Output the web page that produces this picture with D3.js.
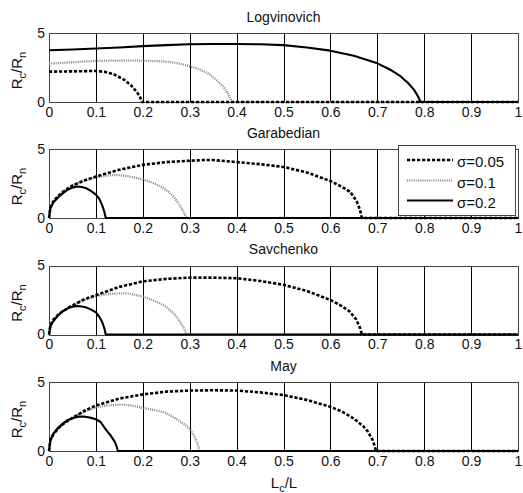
<!DOCTYPE html>
<html><head><meta charset="utf-8">
<script src="https://cdn.jsdelivr.net/npm/d3@7"></script>
<style>
body{margin:0;background:#fff;}
svg{display:block;font-family:"Liberation Sans",Arial,sans-serif;}
</style></head>
<body><svg id="c" width="523" height="493"></svg>
<script>
const panelTitles = ["Logvinovich","Garabedian","Savchenko","May"];
const sigmaLabels = ["σ=0.05","σ=0.1","σ=0.2"];
const xTickValues = [0,0.1,0.2,0.3,0.4,0.5,0.6,0.7,0.8,0.9,1];
const xTickLabels = ["0","0.1","0.2","0.3","0.4","0.5","0.6","0.7","0.8","0.9","1"];
const yTickValues = [0,5];
const yTickLabels = ["0","5"];

// Logvinovich
const logv005 = [[0,2.2],[0.05,2.22],[0.1,2.25],[0.12,2.18],[0.14,1.98],[0.16,1.62],[0.175,1.2],[0.188,0.7],[0.195,0.3],[0.198,0],[1,0]];
const logv01  = [[0,2.78],[0.05,2.88],[0.1,2.98],[0.15,3.0],[0.2,3.0],[0.25,2.93],[0.28,2.78],[0.3,2.58],[0.32,2.38],[0.34,2.05],[0.357,1.6],[0.372,1.1],[0.382,0.6],[0.39,0],[1,0]];
const logv02  = [[0,3.75],[0.05,3.8],[0.1,3.88],[0.15,3.95],[0.2,4.05],[0.25,4.12],[0.3,4.18],[0.35,4.2],[0.4,4.2],[0.45,4.18],[0.5,4.12],[0.55,3.95],[0.6,3.72],[0.65,3.35],[0.7,2.8],[0.73,2.3],[0.75,1.85],[0.765,1.4],[0.778,0.9],[0.787,0.4],[0.792,0],[1,0]];
// Garabedian
const gara005 = [[0,0],[0.003,0.8],[0.01,1.25],[0.02,1.6],[0.03,1.9],[0.05,2.35],[0.075,2.72],[0.1,3.0],[0.125,3.25],[0.15,3.5],[0.2,3.85],[0.25,4.05],[0.3,4.15],[0.33,4.2],[0.35,4.2],[0.4,4.05],[0.45,3.9],[0.5,3.7],[0.55,3.3],[0.6,2.68],[0.625,2.25],[0.642,1.9],[0.656,1.22],[0.663,0.6],[0.667,0],[1,0]];
const gara01  = [[0,0],[0.003,0.8],[0.01,1.25],[0.02,1.6],[0.03,1.9],[0.05,2.35],[0.075,2.7],[0.1,2.95],[0.125,3.08],[0.145,3.12],[0.17,3.02],[0.2,2.8],[0.22,2.58],[0.24,2.25],[0.255,1.9],[0.268,1.45],[0.278,0.95],[0.287,0.45],[0.293,0],[1,0]];
const gara02  = [[0,0],[0.003,0.7],[0.01,1.15],[0.02,1.5],[0.03,1.8],[0.04,2.05],[0.05,2.2],[0.06,2.28],[0.07,2.25],[0.08,2.15],[0.09,1.95],[0.1,1.7],[0.107,1.4],[0.113,0.95],[0.118,0.45],[0.121,0],[1,0]];
// Savchenko
const sav005 = [[0,0],[0.003,0.7],[0.01,1.1],[0.02,1.45],[0.03,1.7],[0.05,2.1],[0.075,2.55],[0.1,2.85],[0.125,3.15],[0.15,3.45],[0.2,3.85],[0.25,4.03],[0.3,4.12],[0.35,4.12],[0.4,4.08],[0.45,3.88],[0.5,3.6],[0.55,3.15],[0.6,2.5],[0.62,2.15],[0.64,1.7],[0.655,1.1],[0.663,0.5],[0.667,0],[1,0]];
const sav01  = [[0,0],[0.003,0.7],[0.01,1.1],[0.02,1.45],[0.03,1.7],[0.05,2.1],[0.075,2.5],[0.1,2.78],[0.125,2.92],[0.15,2.98],[0.17,2.97],[0.2,2.75],[0.22,2.5],[0.24,2.2],[0.25,2.0],[0.265,1.55],[0.277,1.05],[0.287,0.5],[0.294,0],[1,0]];
const sav02  = [[0,0],[0.003,0.6],[0.01,1.0],[0.02,1.4],[0.03,1.7],[0.04,1.9],[0.05,2.02],[0.06,2.06],[0.07,2.03],[0.08,1.95],[0.09,1.8],[0.1,1.6],[0.108,1.25],[0.114,0.85],[0.118,0.45],[0.121,0],[1,0]];
// May
const may005 = [[0,0],[0.003,0.8],[0.01,1.25],[0.02,1.65],[0.03,1.95],[0.05,2.4],[0.075,2.9],[0.1,3.3],[0.125,3.55],[0.15,3.8],[0.2,4.1],[0.25,4.3],[0.3,4.38],[0.35,4.4],[0.4,4.38],[0.45,4.25],[0.5,4.05],[0.55,3.7],[0.6,3.2],[0.625,2.85],[0.65,2.35],[0.67,1.8],[0.68,1.4],[0.69,0.8],[0.695,0.3],[0.697,0],[1,0]];
const may01  = [[0,0],[0.003,0.8],[0.01,1.25],[0.02,1.65],[0.03,1.95],[0.05,2.4],[0.075,2.85],[0.1,3.15],[0.125,3.3],[0.155,3.37],[0.175,3.3],[0.2,3.12],[0.225,2.97],[0.25,2.75],[0.275,2.25],[0.29,1.9],[0.3,1.6],[0.31,1.05],[0.317,0.5],[0.321,0],[1,0]];
const may02  = [[0,0],[0.003,0.8],[0.01,1.3],[0.02,1.7],[0.03,2.0],[0.04,2.25],[0.05,2.38],[0.06,2.47],[0.07,2.5],[0.08,2.47],[0.09,2.4],[0.1,2.3],[0.11,2.1],[0.122,1.52],[0.132,1.1],[0.14,0.68],[0.144,0.35],[0.147,0],[1,0]];

const panelSeries = [
  [logv005, logv01, logv02],
  [gara005, gara01, gara02],
  [sav005, sav01, sav02],
  [may005, may01, may02]
];

const styles = [
  {stroke:"#000", width:2.6, dash:"3.2,1.8"},
  {stroke:"#8a8a8a", width:2.2, dash:"1.1,1.1"},
  {stroke:"#000", width:2.1, dash:null}
];

const svg = d3.select("#c");
const left = 49, right = 518, ph = 69;
const tops = [33, 149, 265.5, 382];

const x = d3.scaleLinear().domain([0,1]).range([left,right]);
const line = d3.line();

tops.forEach((top,i)=>{
  const y = d3.scaleLinear().domain([0,5]).range([top+ph, top]);
  const g = svg.append("g");
  // gridlines
  g.selectAll("line.grid").data(xTickValues.slice(1,-1)).enter().append("line")
    .attr("x1",d=>Math.round(x(d))+0.5).attr("x2",d=>Math.round(x(d))+0.5)
    .attr("y1",top).attr("y2",top+ph)
    .attr("stroke","#000").attr("stroke-width",1).attr("shape-rendering","crispEdges");
  // box
  g.append("rect").attr("x",left+0.5).attr("y",Math.round(top)+0.5)
    .attr("width",right-left).attr("height",ph)
    .attr("fill","none").attr("stroke","#444").attr("stroke-width",1).attr("shape-rendering","crispEdges");
  // x axis labels
  const xa = d3.axisBottom(x).tickValues(xTickValues).tickSize(0).tickPadding(5)
    .tickFormat((d,j)=>xTickLabels[j]);
  const gx = g.append("g").attr("transform",`translate(0,${top+ph})`).call(xa);
  gx.select(".domain").remove();
  gx.selectAll("text").attr("font-size",14).attr("fill","#111").attr("font-family","Liberation Sans, Arial, sans-serif");
  // y axis labels
  const ya = d3.axisLeft(y).tickValues(yTickValues).tickSize(0).tickPadding(4)
    .tickFormat((d,j)=>yTickLabels[j]);
  const gy = g.append("g").attr("transform",`translate(${left},0)`).call(ya);
  gy.select(".domain").remove();
  gy.selectAll("text").attr("font-size",14).attr("fill","#111").attr("font-family","Liberation Sans, Arial, sans-serif");
  // title
  g.append("text").attr("x",(left+right)/2).attr("y",top-11.5).attr("text-anchor","middle")
    .attr("font-size",14).attr("fill","#111").text(panelTitles[i]);
  // y label
  const yl = g.append("text").attr("transform",`translate(22,${top+ph/2+3}) rotate(-90)`)
    .attr("text-anchor","middle").attr("font-size",15).attr("fill","#111");
  yl.append("tspan").text("R");
  yl.append("tspan").attr("font-size",11).attr("dy",4).text("c");
  yl.append("tspan").attr("dy",-4).text("/R");
  yl.append("tspan").attr("font-size",11).attr("dy",4).text("n");
  // series
  [1,0,2].forEach(k=>{
    const s = styles[k];
    g.append("path").datum(panelSeries[i][k].map(p=>[x(p[0]), y(p[1])]))
      .attr("d",line).attr("fill","none").attr("stroke",s.stroke)
      .attr("stroke-width",s.width).attr("stroke-dasharray",s.dash)
      .attr("stroke-linejoin","round");
  });
  // legend on Garabedian panel
  if(i===1){
    const lg = svg.append("g");
    lg.append("rect").attr("x",398.5).attr("y",145.5).attr("width",117).attr("height",70)
      .attr("fill","#fff").attr("stroke","#444").attr("stroke-width",1).attr("shape-rendering","crispEdges");
    const rowsY = [160, 180.5, 200.5];
    sigmaLabels.forEach((lab,k)=>{
      const s = styles[k];
      lg.append("line").attr("x1",407).attr("x2",453).attr("y1",rowsY[k]).attr("y2",rowsY[k])
        .attr("stroke",s.stroke).attr("stroke-width",s.width).attr("stroke-dasharray",s.dash);
      lg.append("text").attr("x",457).attr("y",rowsY[k]+7).attr("font-size",15).attr("fill","#111").text(lab);
    });
  }
});
// x label
const xl = svg.append("text").attr("x",284).attr("y",488).attr("text-anchor","middle")
  .attr("font-size",15).attr("fill","#111");
xl.append("tspan").text("L");
xl.append("tspan").attr("font-size",11).attr("dy",4).text("c");
xl.append("tspan").attr("dy",-4).text("/L");
</script></body></html>
